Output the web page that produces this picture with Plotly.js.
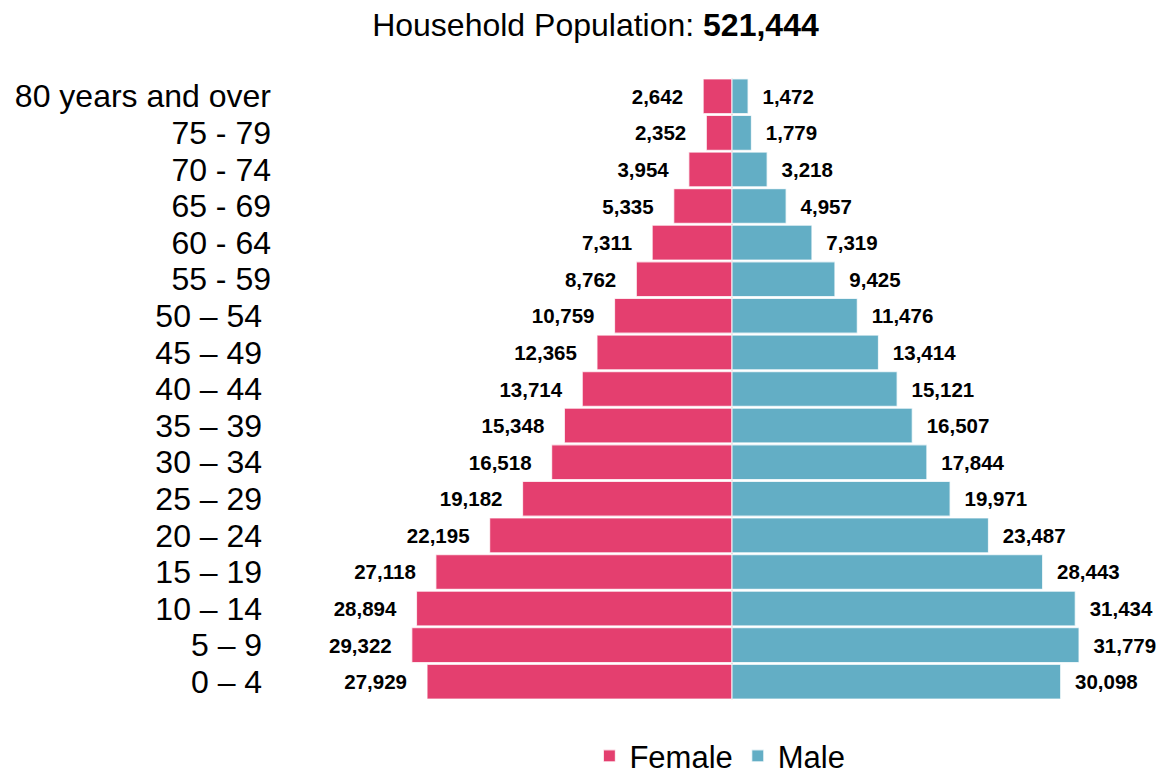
<!DOCTYPE html>
<html>
<head>
<meta charset="utf-8">
<script src="https://cdn.plot.ly/plotly-3.0.1.min.js"></script>
<style>
html,body{margin:0;padding:0;background:#fff;}
#chart{width:1163px;height:774px;}
</style>
</head>
<body>
<div id="chart"></div>
<script>
// Age groups, bottom to top
const ageGroups = ["0 – 4", "5 – 9", "10 – 14", "15 – 19", "20 – 24", "25 – 29", "30 – 34",
  "35 – 39", "40 – 44", "45 – 49", "50 – 54", "55 - 59", "60 - 64", "65 - 69", "70 - 74",
  "75 - 79", "80 years and over"];
const female = [27929, 29322, 28894, 27118, 22195, 19182, 16518, 15348, 13714, 12365, 10759,
  8762, 7311, 5335, 3954, 2352, 2642];
const male = [30098, 31779, 31434, 28443, 23487, 19971, 17844, 16507, 15121, 13414, 11476,
  9425, 7319, 4957, 3218, 1779, 1472];

const fmt = v => v.toLocaleString('en-US');
const total = female.reduce((a, b) => a + b, 0) + male.reduce((a, b) => a + b, 0);
const NB = '\u00a0';
const FONT = "'Liberation Sans', Arial, sans-serif";

const femaleTrace = {
  type: 'bar', orientation: 'h', name: 'Female',
  y: ageGroups, x: female.map(v => -v),
  text: female.map(v => fmt(v) + NB + NB + NB),
  textposition: 'outside', cliponaxis: false, constraintext: 'none',
  textfont: {family: FONT, size: 20.5, color: '#000', weight: 'bold'},
  marker: {color: '#E43F6F', line: {color: 'rgba(255,255,255,0.75)', width: 1.2}},
  hoverinfo: 'skip'
};
const maleTrace = {
  type: 'bar', orientation: 'h', name: 'Male',
  y: ageGroups, x: male,
  text: male.map(v => NB + NB + fmt(v)),
  textposition: 'outside', cliponaxis: false, constraintext: 'none',
  textfont: {family: FONT, size: 20.5, color: '#000', weight: 'bold'},
  marker: {color: '#63AEC5', line: {color: 'rgba(255,255,255,0.75)', width: 1.2}},
  hoverinfo: 'skip'
};

const layout = {
  width: 1163, height: 774,
  paper_bgcolor: '#fff', plot_bgcolor: '#fff',
  font: {family: FONT, color: '#000', size: 32},
  title: {
    text: 'Household Population: <b>' + fmt(total) + '</b>',
    font: {family: FONT, size: 32, color: '#000'},
    x: 0.512, xref: 'container', xanchor: 'center',
    y: 0.968, yref: 'container', yanchor: 'middle'
  },
  margin: {l: 272, r: 8, t: 78, b: 74, autoexpand: false},
  barmode: 'relative', bargap: 0.05,
  xaxis: {
    range: [-42125, 38736], showgrid: false, showticklabels: false, ticks: '',
    zeroline: true, zerolinecolor: '#d9d9d9', zerolinewidth: 2, showline: false, fixedrange: true
  },
  yaxis: {
    type: 'category', showgrid: false, zeroline: false, showline: false, ticks: '',
    tickvals: ageGroups,
    ticktext: ageGroups.map(c => c.indexOf('–') >= 0 ? c + NB : c),
    tickfont: {family: FONT, size: 32, color: '#000'}, fixedrange: true
  },
  legend: {
    orientation: 'h', x: 0.619, xref: 'container', xanchor: 'center',
    y: 0.023, yref: 'container', yanchor: 'middle',
    font: {family: FONT, size: 31, color: '#000'}, itemwidth: 30, traceorder: 'normal'
  },
  showlegend: true
};

Plotly.newPlot('chart', [femaleTrace, maleTrace], layout, {displayModeBar: false, staticPlot: true});
</script>
</body>
</html>
